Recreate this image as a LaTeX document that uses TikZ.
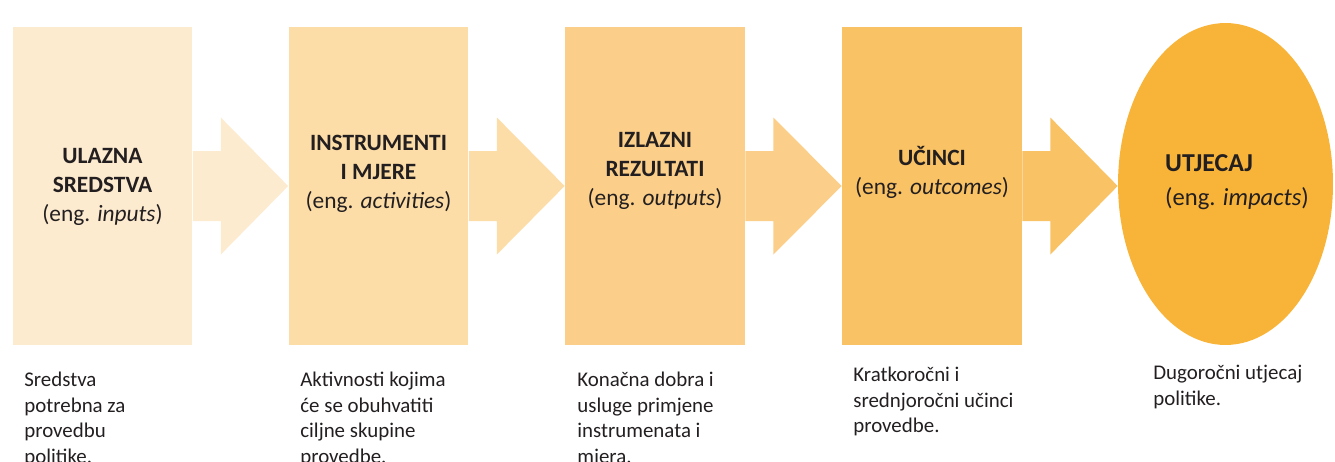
\documentclass[tikz,border=0pt]{standalone}
\usepackage{fontspec}
\setmainfont{Carlito}
\usetikzlibrary{calc,shapes.geometric}

\definecolor{stepa}{HTML}{FDEBD0}
\definecolor{stepb}{HTML}{FCDDA7}
\definecolor{stepc}{HTML}{FBCF8A}
\definecolor{stepd}{HTML}{F9C264}
\definecolor{stepe}{HTML}{F8B438}
\definecolor{ink}{HTML}{231F20}

\begin{document}
\begin{tikzpicture}[x=0.02cm,y=-0.02cm,
        box/.style={rectangle,inner sep=0,minimum width=3.6cm,minimum height=6.36cm},
        head/.style={text=ink,align=center,font=\fontsize{13.3}{16.4}\selectfont},
        note/.style={text=ink,align=left,anchor=north west,inner sep=0,font=\fontsize{11.9}{14.5}\selectfont}]
    \useasboundingbox (0,0) rectangle (1335,461);

    % X % 13    288   565   842   (width 180)
    % Y % 27 -- 345
    \node [box,fill=stepa] (inputs)     at (102.5,186) {};
    \node [box,fill=stepb] (activities) at (378.5,186) {};
    \node [box,fill=stepc] (outputs)    at (655,186)   {};
    \node [box,fill=stepd] (outcomes)   at (932,186)   {};
    \node [ellipse,inner sep=0,minimum width=4.3cm,minimum height=6.44cm,fill=stepe] (impacts) at (1225.5,184) {};

    \foreach \a/\b/\c in {inputs/activities/stepa,activities/outputs/stepb,
                          outputs/outcomes/stepc,outcomes/impacts/stepd}
        {\fill [\c] ($(\a.east)+(0,-35)$) -- ++(28,0) -- ++(0,-33.5) -- (\b.west |- \a.east) --
                    ($(\a.east)+(28,68.5)$) -- ++(0,-33.5) -- ($(\a.east)+(0,35)$) -- cycle;}

    \node [head] (inputs-t)     at (102.5,187) {\textbf{ULAZNA}\\\textbf{SREDSTVA}\\(eng. \textit{inputs})};
    \node [head] (activities-t) at (378.5,174) {\textbf{INSTRUMENTI}\\\textbf{I MJERE}\\(eng. \textit{activities})};
    \node [head] (outputs-t)    at (655,171)   {\textbf{IZLAZNI}\\\textbf{REZULTATI}\\(eng. \textit{outputs})};
    \node [head] (outcomes-t)   at (932,172)   {\textbf{UČINCI}\\(eng. \textit{outcomes})};
    \node [head,align=left,font=\fontsize{14}{19.3}\selectfont] (impacts-t) at (1237,182)
        {{\fontsize{14.7}{19.3}\selectfont\textbf{UTJECAJ}}\\(eng. \textit{impacts})};

    \node [note] (inputs-n)     at (24,372)   {Sredstva\\potrebna za\\provedbu\\politike.};
    \node [note] (activities-n) at (300,372)  {Aktivnosti kojima\\će se obuhvatiti\\ciljne skupine\\provedbe.};
    \node [note] (outputs-n)    at (577,372)  {Konačna dobra i\\usluge primjene\\instrumenata i\\mjera.};
    \node [note] (outcomes-n)   at (853,367)  {Kratkoročni i\\srednjoročni učinci\\provedbe.};
    \node [note] (impacts-n)    at (1153,365) {Dugoročni utjecaj\\politike.};
\end{tikzpicture}
\end{document}
